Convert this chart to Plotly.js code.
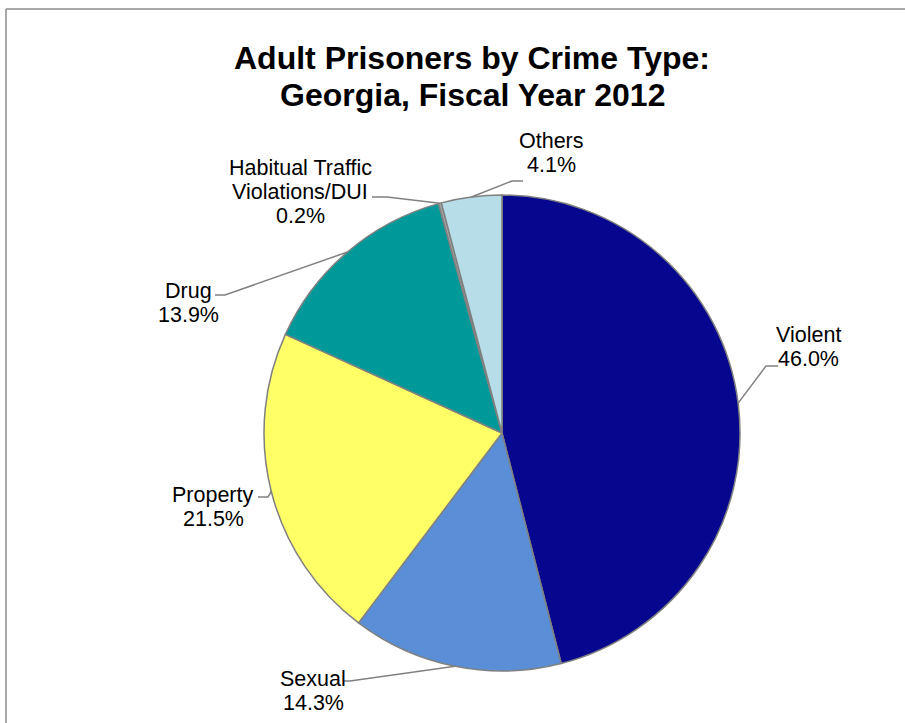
<!DOCTYPE html>
<html>
<head>
<meta charset="utf-8">
<script src="https://cdn.plot.ly/plotly-3.0.1.min.js"></script>
<style>html,body{margin:0;padding:0;background:#fff;}#chart{width:905px;height:723px;}</style>
</head>
<body>
<div id="chart"></div>
<script>
// ---- data ----
const titleLines = ["Adult Prisoners by Crime Type:", "Georgia, Fiscal Year 2012"];
const categories = ["Violent", "Sexual", "Property", "Drug", "Habitual Traffic<br>Violations/DUI", "Others"];
const values = [46.0, 14.3, 21.5, 13.9, 0.2, 4.1];
const colors = ["#06068F", "#5A8ED6", "#FFFF66", "#009999", "#A6A6A6", "#B7DDE8"];

// ---- layout (pixels) ----
const W = 905, H = 723;
const cx = 502, cy = 433, R = 238;
const lineGap = 24;
const titleX = 472, titleY = [58, 95];
// label block centres and leader elbow/end points (layout only)
const labelLayout = [
  {tx: 808, ty: 347, elbow: [766, 366], end: [778, 366]},
  {tx: 313, ty: 691, elbow: [350, 681], end: [344, 681]},
  {tx: 213, ty: 507, elbow: [268, 497], end: [258, 497]},
  {tx: 188, ty: 303, elbow: [225, 295], end: [215, 295]},
  {tx: 300, ty: 192, elbow: [387, 197], end: [372, 197]},
  {tx: 551, ty: 153, elbow: [512, 181], end: [523, 181]}
];

const px = x => x / W;
const py = y => 1 - y / H;

const total = values.reduce((a, b) => a + b, 0);
let cum = 0;
const annotations = [];
const shapes = [];
values.forEach((v, i) => {
  const mid = (cum + v / 2) / total * 2 * Math.PI;
  cum += v;
  const ex = cx + R * Math.sin(mid);
  const ey = cy - R * Math.cos(mid);
  const L = labelLayout[i];
  shapes.push({
    type: 'path', xref: 'paper', yref: 'paper',
    path: `M ${px(ex)} ${py(ey)} L ${px(L.elbow[0])} ${py(L.elbow[1])} L ${px(L.end[0])} ${py(L.end[1])}`,
    line: {color: '#808080', width: 1.5}
  });
  const lines = categories[i].split('<br>').concat([v.toFixed(1) + '%']);
  const top = L.ty - (lines.length - 1) * lineGap / 2;
  lines.forEach((t, k) => {
    annotations.push({
      xref: 'paper', yref: 'paper', x: px(L.tx), y: py(top + k * lineGap),
      xanchor: 'center', yanchor: 'middle', showarrow: false,
      text: t,
      font: {family: 'Liberation Sans, Arial, sans-serif', size: 21.5, color: '#000'},
      align: 'center'
    });
  });
});

// title (two lines)
titleLines.forEach((t, k) => {
  annotations.push({
    xref: 'paper', yref: 'paper', x: px(titleX), y: py(titleY[k]),
    xanchor: 'center', yanchor: 'middle', showarrow: false,
    text: '<b>' + t + '</b>',
    font: {family: 'Liberation Sans Narrow, Arial Narrow, Liberation Sans, sans-serif', size: 32, color: '#000'}
  });
});

// chart frame (top and left edges visible)
shapes.push({type: 'line', xref: 'paper', yref: 'paper', x0: px(6), y0: py(9), x1: 1.01, y1: py(9), line: {color: '#8C8C8C', width: 1.5}});
shapes.push({type: 'line', xref: 'paper', yref: 'paper', x0: px(6), y0: py(9), x1: px(6), y1: -0.01, line: {color: '#8C8C8C', width: 1.5}});

const trace = {
  type: 'pie',
  labels: categories,
  values: values,
  sort: false,
  direction: 'clockwise',
  rotation: 0,
  marker: {colors: colors, line: {color: '#808080', width: 1.5}},
  textinfo: 'none',
  hoverinfo: 'label+percent',
  showlegend: false,
  domain: {x: [px(cx - R), px(cx + R)], y: [py(cy + R), py(cy - R)]}
};

const layout = {
  width: W, height: H,
  margin: {l: 0, r: 0, t: 0, b: 0},
  paper_bgcolor: '#fff',
  showlegend: false,
  shapes: shapes,
  annotations: annotations
};

Plotly.newPlot('chart', [trace], layout, {displayModeBar: false, staticPlot: true});
</script>
</body>
</html>
